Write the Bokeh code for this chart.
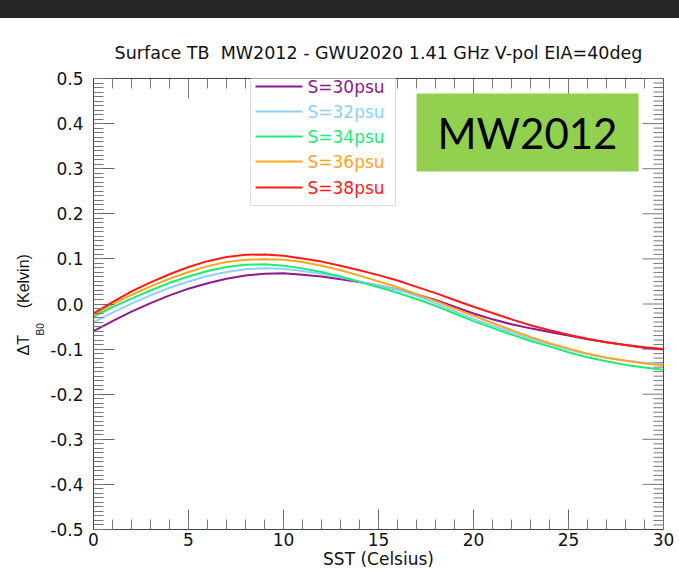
import numpy as np
from bokeh.plotting import figure
from bokeh.models import (Range1d, FixedTicker, PrintfTickFormatter,
                          Label, BoxAnnotation, Div, Title)
from bokeh.layouts import column
from bokeh.embed import file_html
from bokeh.resources import INLINE

# ---------------- data ----------------
sst = list(range(0, 31))
dtb_s30 = [-0.060, -0.038, -0.017, 0.002, 0.019, 0.034, 0.046, 0.056, 0.063, 0.067, 0.068,
           0.065, 0.061, 0.055, 0.049, 0.041, 0.032, 0.021, 0.009, -0.006, -0.021,
           -0.034, -0.045, -0.054, -0.062, -0.070, -0.078, -0.085, -0.091, -0.097, -0.101]
dtb_s32 = [-0.040, -0.019, 0.001, 0.019, 0.036, 0.050, 0.062, 0.071, 0.077, 0.079, 0.078,
           0.073, 0.067, 0.059, 0.050, 0.041, 0.032, 0.018, 0.002, -0.016, -0.033,
           -0.048, -0.063, -0.077, -0.089, -0.101, -0.111, -0.119, -0.125, -0.130, -0.133]
dtb_s34 = [-0.028, -0.007, 0.012, 0.030, 0.047, 0.061, 0.073, 0.082, 0.087, 0.088, 0.085,
           0.079, 0.071, 0.061, 0.049, 0.037, 0.025, 0.011, -0.004, -0.021, -0.038,
           -0.053, -0.068, -0.082, -0.094, -0.107, -0.118, -0.127, -0.135, -0.141, -0.146]
dtb_s36 = [-0.024, -0.001, 0.020, 0.039, 0.056, 0.071, 0.084, 0.093, 0.098, 0.099, 0.098,
           0.093, 0.085, 0.075, 0.063, 0.050, 0.037, 0.022, 0.007, -0.010, -0.026,
           -0.042, -0.058, -0.073, -0.087, -0.099, -0.110, -0.119, -0.126, -0.132, -0.136]
dtb_s38 = [-0.021, 0.004, 0.028, 0.048, 0.066, 0.082, 0.095, 0.104, 0.109, 0.110, 0.107,
           0.101, 0.094, 0.085, 0.075, 0.064, 0.052, 0.038, 0.024, 0.009, -0.006,
           -0.020, -0.034, -0.047, -0.058, -0.068, -0.077, -0.085, -0.091, -0.096, -0.100]

series_labels = ["S=30psu", "S=32psu", "S=34psu", "S=36psu", "S=38psu"]
series_values = [dtb_s30, dtb_s32, dtb_s34, dtb_s36, dtb_s38]
series_colors = ["#8C1A8C", "#8FD0F8", "#1DEB78", "#FFA51A", "#FF1A1A"]

x_ticks = [0, 5, 10, 15, 20, 25, 30]
y_ticks = [-0.5, -0.4, -0.3, -0.2, -0.1, 0.0, 0.1, 0.2, 0.3, 0.4, 0.5]

title_text = "Surface TB \u00a0MW2012 - GWU2020 1.41 GHz V-pol EIA=40deg"
x_label = "SST (Celsius)"
badge_text = "MW2012"

# ---------------- figure ----------------
FONT = "DejaVu Sans"
TXT = "#111111"
p = figure(width=679, height=555, x_range=Range1d(0, 30), y_range=Range1d(-0.5, 0.5),
           output_backend="svg", toolbar_location=None,
           min_border_left=93, min_border_right=16, min_border_top=60, min_border_bottom=44)
p.grid.visible = False
p.outline_line_color = "#444444"
p.background_fill_color = "white"
p.border_fill_color = "white"

x_minor = [float(v) for v in range(0, 31)]
y_minor = [round(v, 2) for v in np.arange(-0.5, 0.5001, 0.01)]

XMAJ, XMIN, YMAJ, YMIN = 20, 10, 21, 10

ax = p.xaxis[0]
ax.ticker = FixedTicker(ticks=x_ticks, minor_ticks=x_minor)
ax.major_tick_in, ax.major_tick_out = XMAJ, 0
ax.minor_tick_in, ax.minor_tick_out = XMIN, 0
ax.axis_line_color = "#444444"
ax.major_tick_line_color = "#666666"
ax.minor_tick_line_color = "#777777"
ax.major_label_text_font = FONT
ax.major_label_text_font_size = "17px"
ax.major_label_text_color = TXT
ax.major_label_standoff = 3
ax.axis_label = x_label
ax.axis_label_text_font = FONT
ax.axis_label_text_font_size = "17px"
ax.axis_label_text_font_style = "normal"
ax.axis_label_text_color = TXT
ax.axis_label_standoff = 0

ay = p.yaxis[0]
ay.ticker = FixedTicker(ticks=y_ticks, minor_ticks=y_minor)
ay.formatter = PrintfTickFormatter(format="%.1f")
ay.major_tick_in, ay.major_tick_out = YMAJ, 0
ay.minor_tick_in, ay.minor_tick_out = YMIN, 0
ay.axis_line_color = "#444444"
ay.major_tick_line_color = "#666666"
ay.minor_tick_line_color = "#777777"
ay.major_label_text_font = FONT
ay.major_label_text_font_size = "17px"
ay.major_label_text_color = TXT
ay.major_label_standoff = 10

# mirrored inward ticks on the top and right edges of the frame
top_x = x_minor
top_len = [(XMAJ if v in x_ticks else XMIN) / 451.0 for v in top_x]
p.segment(x0=top_x, y0=[0.5] * len(top_x), x1=top_x, y1=[0.5 - l for l in top_len],
          line_color="#777777", line_width=1)
right_y = y_minor
right_len = [(YMAJ if round(v, 2) in y_ticks else YMIN) / 19.0 for v in right_y]
p.segment(x0=[30] * len(right_y), y0=right_y, x1=[30 - l for l in right_len], y1=right_y,
          line_color="#777777", line_width=1)

# ---------------- curves ----------------
for vals, col in zip(series_values, series_colors):
    p.line(sst, vals, line_color=col, line_width=2)

# ---------------- title & y label ----------------
p.title.text = title_text
p.title.align = "center"
p.title.text_font = FONT
p.title.text_font_size = "17.5px"
p.title.text_font_style = "normal"
p.title.text_color = TXT
p.title.standoff = 32

t_sub = Title(text="B0", align="left", offset=194, standoff=3,
              text_font="Liberation Sans", text_font_size="10px",
              text_font_style="normal", text_color=TXT)
p.add_layout(t_sub, "left")
t_main = Title(text="\u0394T" + "\u00a0" * 6 + "(Kelvin)", align="left", offset=174, standoff=0,
               text_font="Liberation Sans", text_font_size="16px",
               text_font_style="normal", text_color=TXT)
p.add_layout(t_main, "left")

# ---------------- helpers: pixel -> data (frame 93..663 x, 60..511 y in figure) ----------------
def dx(px):
    return (px - 93) / 19.0

def dy(py):
    return 0.5 - (py - 60) / 451.0

# legend box
p.add_layout(BoxAnnotation(left=dx(250), right=dx(395), top=dy(51), bottom=dy(187),
                           fill_color="white", fill_alpha=1.0, line_color="#8a8a8a", line_width=1))
row_y = [68, 93, 118, 143, 169]
for lab, col, ry in zip(series_labels, series_colors, row_y):
    r = p.line([dx(255), dx(302)], [dy(ry), dy(ry)], line_color=col, line_width=2)
    r.level = "overlay"
    p.add_layout(Label(x=dx(307), y=dy(ry), text=lab, text_align="left", text_baseline="middle",
                       text_font=FONT, text_font_size="17px", text_color=col))

# green badge
p.add_layout(BoxAnnotation(left=dx(416), right=dx(638), top=dy(75), bottom=dy(153),
                           fill_color="#92D050", fill_alpha=1.0, line_alpha=0))
p.add_layout(Label(x=dx(527), y=dy(114), text=badge_text, text_align="center", text_baseline="middle",
                   text_font="Lato", text_font_size="42px", text_color="black"))

bar = Div(text="", width=679, height=18, margin=0,
          styles={"background-color": "#262626"})
layout = column(bar, p, spacing=0, margin=0)

open("out.html", "w").write(file_html(layout, INLINE))
